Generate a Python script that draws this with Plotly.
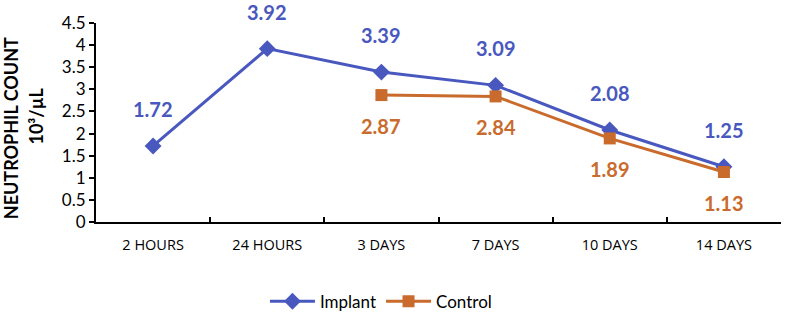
import plotly.graph_objects as go

categories = ["2 HOURS", "24 HOURS", "3 DAYS", "7 DAYS", "10 DAYS", "14 DAYS"]
implant = [1.72, 3.92, 3.39, 3.09, 2.08, 1.25]
control_cats = ["3 DAYS", "7 DAYS", "10 DAYS", "14 DAYS"]
control = [2.87, 2.84, 1.89, 1.13]
y_ticks = [0, 0.5, 1, 1.5, 2, 2.5, 3, 3.5, 4, 4.5]

BLUE = "#4858BE"
ORANGE = "#C96B2C"
FONT = "Lato, 'Open Sans', sans-serif"

fig = go.Figure()
fig.add_trace(go.Scatter(
    x=categories, y=implant, name="Implant", mode="lines+markers",
    line=dict(color=BLUE, width=3),
    marker=dict(symbol="diamond", size=13, color=BLUE),
    cliponaxis=False,
))
fig.add_trace(go.Scatter(
    x=control_cats, y=control, name="Control", mode="lines+markers",
    line=dict(color=ORANGE, width=3),
    marker=dict(symbol="square", size=12, color=ORANGE),
    cliponaxis=False,
))

annotations = []
for c, v in zip(categories, implant):
    annotations.append(dict(x=c, y=v, text=f"{v:.2f}", showarrow=False,
                            yshift=37, font=dict(family=FONT, size=20, color=BLUE, weight="bold")))
for c, v in zip(control_cats, control):
    annotations.append(dict(x=c, y=v, text=f"{v:.2f}", showarrow=False,
                            yshift=-31, font=dict(family=FONT, size=20, color=ORANGE, weight="bold")))
annotations.append(dict(
    xref="paper", yref="paper", x=-0.123, y=0.47, xanchor="center", yanchor="middle",
    text="<b>NEUTROPHIL COUNT</b>", textangle=-90, showarrow=False,
    font=dict(family=FONT, size=18, color="black"),
))
annotations.append(dict(
    xref="paper", yref="paper", x=-0.089, y=0.53, xanchor="center", yanchor="middle",
    text="<b>10³/µL</b>", textangle=-90, showarrow=False,
    font=dict(family=FONT, size=18, color="black"),
))

fig.update_layout(
    width=787, height=312,
    margin=dict(l=96, r=6, t=23, b=90, autoexpand=False),
    paper_bgcolor="white", plot_bgcolor="white",
    font=dict(family=FONT, color="black"),
    annotations=annotations,
    showlegend=True,
    legend=dict(orientation="h", x=0.416, xanchor="center", y=-0.31, yanchor="top",
                font=dict(size=17, family=FONT), itemwidth=45, tracegroupgap=0),
    xaxis=dict(
        type="category", categoryorder="array", categoryarray=categories,
        range=[-0.5, 5.5], automargin=False,
        showline=True, linecolor="black", linewidth=2,
        ticks="inside", tickson="boundaries", ticklen=5, tickcolor="black", tickwidth=2,
        showgrid=False, zeroline=False,
        tickfont=dict(size=14.5, family="'Open Sans', sans-serif"),
        ticklabelstandoff=9,
    ),
    yaxis=dict(
        range=[0, 4.5], tickvals=y_ticks, ticktext=[f"{t:g}" for t in y_ticks],
        automargin=False,
        showline=True, linecolor="black", linewidth=2,
        ticks="outside", ticklen=5, tickcolor="black", tickwidth=2,
        showgrid=False, zeroline=False,
        tickfont=dict(size=17, family=FONT),
    ),
)

fig.write_html("out.html", config={"displayModeBar": False},
               post_script="document.body.style.margin='0';")
